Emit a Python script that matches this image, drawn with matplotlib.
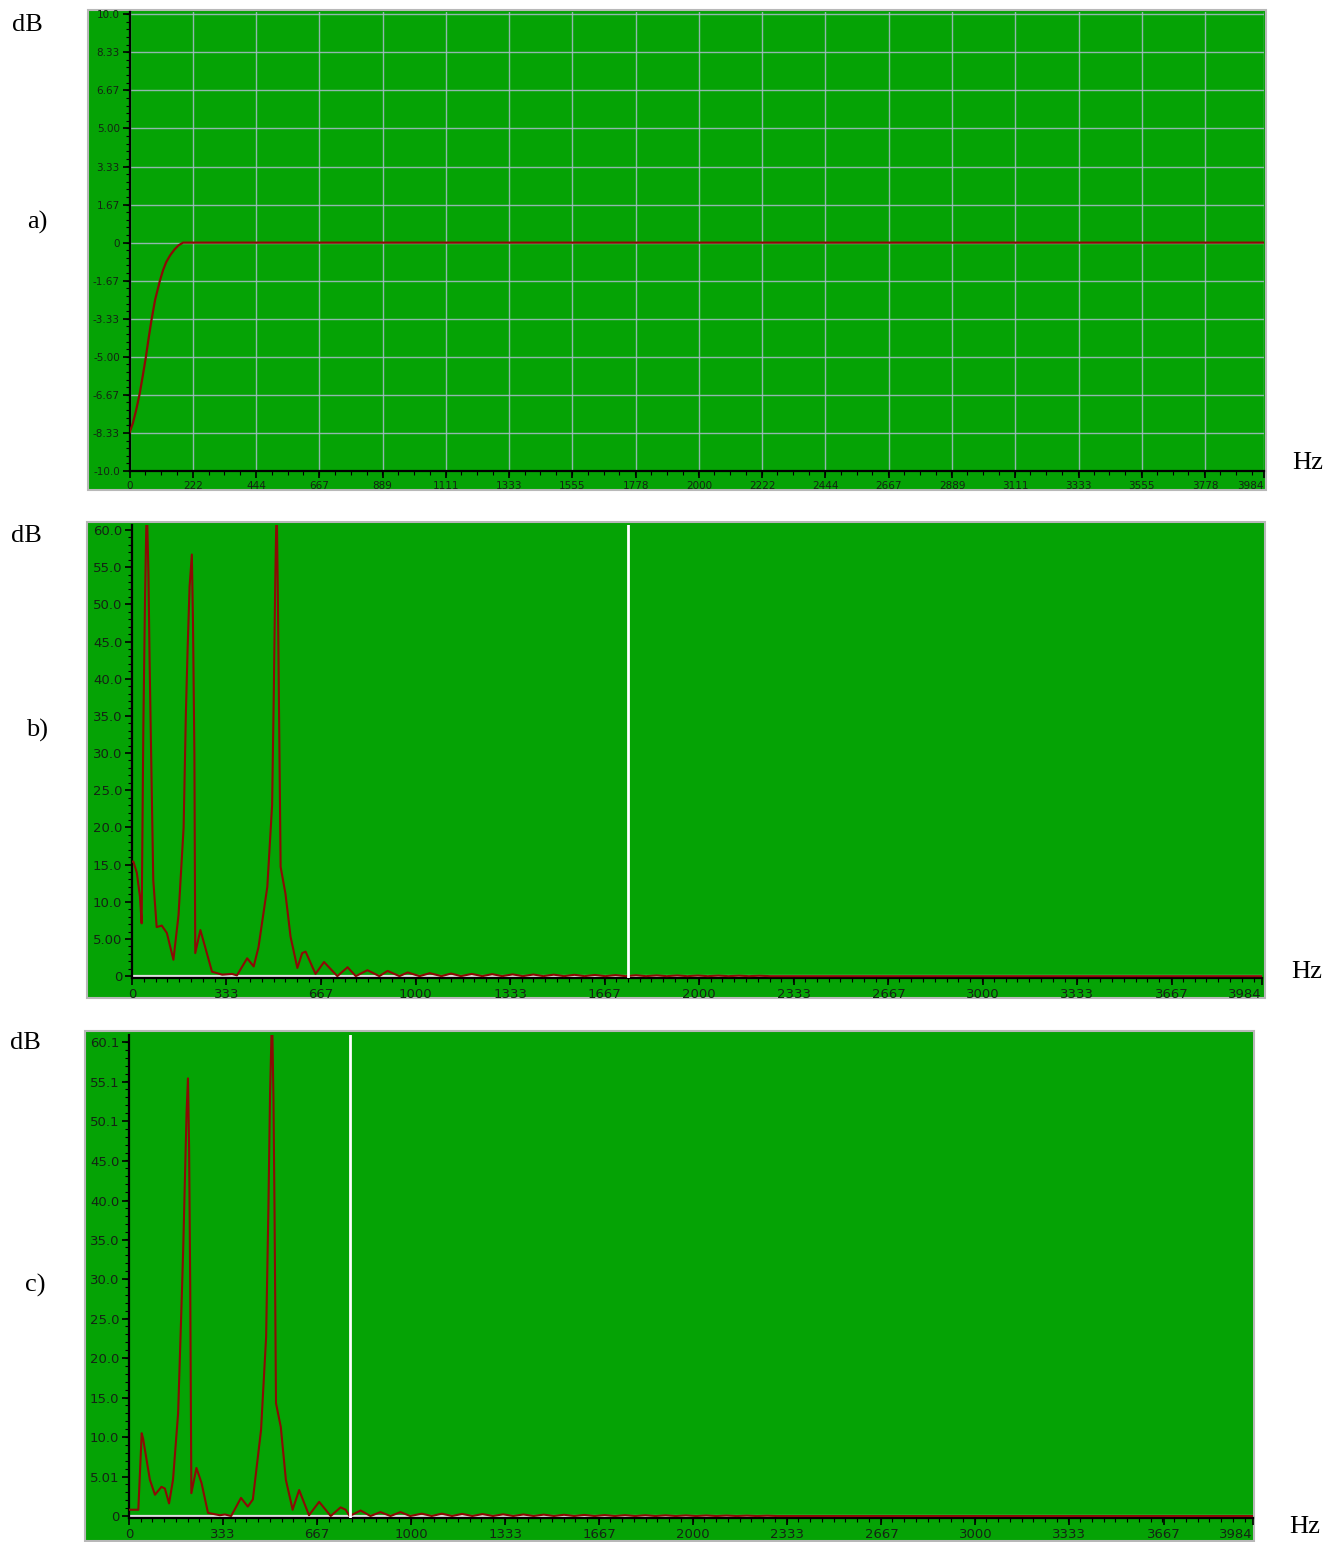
import matplotlib
matplotlib.use("Agg")
import matplotlib.pyplot as plt
from matplotlib.patches import Rectangle
from matplotlib.ticker import AutoMinorLocator

W, H = 1330, 1542
GREEN = "#05a305"
RED = "#8c0a05"
GRID = "#a8bccb"
LABEL = "#142414"

# ---- panel a: high-pass response (dB vs Hz)
a_freq = [0, 12, 24, 36, 47, 57, 67, 77, 90, 106, 118, 129, 143, 158, 172, 188, 3984]
a_db = [-8.33, -7.9, -7.3, -6.6, -5.8, -5.05, -4.2, -3.4, -2.5, -1.7, -1.2, -0.85,
        -0.55, -0.3, -0.12, 0.0, 0.0]
a_yticks = [10, 8.333, 6.667, 5, 3.333, 1.667, 0, -1.667, -3.333, -5, -6.667, -8.333, -10]
a_ylabels = ["10.0", "8.33", "6.67", "5.00", "3.33", "1.67", "0",
             "-1.67", "-3.33", "-5.00", "-6.67", "-8.33", "-10.0"]
a_xticks = [0, 222, 444, 667, 889, 1111, 1333, 1555, 1778, 2000, 2222, 2444,
            2667, 2889, 3111, 3333, 3555, 3778, 3984]

# ---- panel b: spectrum before filtering
b_freq = [0, 5, 17, 28, 34, 40, 46, 52, 58, 62, 67, 75, 87, 105, 123, 146, 164, 182,
          190, 196, 203, 211, 215, 220, 223, 241, 258, 282, 318, 353, 370, 406, 429,
          446, 477, 494, 500, 505, 510, 514, 518, 524, 541, 559, 583, 600, 612, 647,
          677, 724, 760, 789, 830, 872, 901, 943, 972, 1014, 1050, 1091, 1125, 1160,
          1198, 1235, 1270, 1305, 1342, 1378, 1415, 1450, 1487, 1523, 1560, 1595,
          1632, 1668, 1705, 1740, 1777, 1812, 1850, 1885, 1922, 1958, 1995, 2030,
          2067, 2103, 2140, 2175, 2212, 2250, 2300, 3984]
b_db = [15.4, 15.4, 13.9, 10.7, 7.1, 33.5, 51.0, 64.0, 54.0, 42.5, 30.8, 12.9, 6.6,
        6.8, 5.8, 2.2, 8.2, 20.0, 35.4, 43.9, 52.4, 56.7, 47.7, 29.7, 3.1, 6.2, 3.9,
        0.6, 0.2, 0.3, 0.1, 2.4, 1.3, 3.9, 12.0, 23.0, 38.3, 53.0, 64.0, 52.0, 37.0,
        14.7, 11.1, 5.3, 1.1, 3.1, 3.3, 0.3, 1.9, 0.0, 1.2, 0.0, 0.8, 0.0, 0.7, 0.0,
        0.5, 0.0, 0.4, 0.0, 0.35, 0.0, 0.3, 0.0, 0.27, 0.0, 0.24, 0.0, 0.22, 0.0,
        0.2, 0.0, 0.18, 0.0, 0.16, 0.0, 0.14, 0.0, 0.12, 0.0, 0.1, 0.0, 0.09, 0.0,
        0.08, 0.0, 0.07, 0.0, 0.06, 0.0, 0.05, 0.0, 0.0, 0.0]
b_marker = 1748

# ---- panel c: spectrum after filtering
c_freq = [0, 33, 45, 50, 74, 92, 115, 127, 142, 156, 174, 186, 192, 198, 204, 209,
          213, 217, 221, 239, 257, 280, 322, 340, 362, 397, 421, 439, 468, 486, 494,
          500, 507, 512, 516, 521, 538, 556, 580, 603, 638, 674, 715, 750, 768, 782,
          821, 856, 891, 927, 962, 997, 1038, 1073, 1109, 1145, 1181, 1217, 1253,
          1290, 1326, 1362, 1398, 1434, 1470, 1506, 1542, 1578, 1614, 1650, 1686,
          1722, 1758, 1794, 1830, 1866, 1902, 1938, 1974, 2010, 2046, 2082, 2118,
          2154, 2190, 2226, 2262, 2300, 3984]
c_db = [0.8, 0.8, 10.5, 9.8, 4.6, 2.7, 3.7, 3.5, 1.6, 4.6, 13.0, 26.5, 33.7, 42.4,
        51.1, 55.5, 46.8, 29.1, 2.9, 6.1, 4.2, 0.4, 0.1, 0.2, 0.0, 2.3, 1.2, 2.1,
        10.9, 22.7, 38.8, 53.6, 64.0, 53.0, 38.0, 14.3, 11.3, 4.6, 0.8, 3.3, 0.1,
        1.8, 0.0, 1.1, 0.8, 0.0, 0.7, 0.0, 0.5, 0.0, 0.5, 0.0, 0.3, 0.0, 0.3, 0.0,
        0.27, 0.0, 0.25, 0.0, 0.22, 0.0, 0.2, 0.0, 0.18, 0.0, 0.16, 0.0, 0.14, 0.0,
        0.12, 0.0, 0.11, 0.0, 0.1, 0.0, 0.09, 0.0, 0.08, 0.0, 0.07, 0.0, 0.06, 0.0,
        0.05, 0.0, 0.04, 0.0, 0.0]
c_marker = 782

spec_xticks = [0, 333, 667, 1000, 1333, 1667, 2000, 2333, 2667, 3000, 3333, 3667, 3984]
b_yticks = [60, 55, 50, 45, 40, 35, 30, 25, 20, 15, 10, 5, 0]
b_ylabels = ["60.0", "55.0", "50.0", "45.0", "40.0", "35.0", "30.0", "25.0",
             "20.0", "15.0", "10.0", "5.00", "0"]
c_yticks = [60.1, 55.1, 50.1, 45, 40, 35, 30, 25, 20, 15, 10, 5.01, 0]
c_ylabels = ["60.1", "55.1", "50.1", "45.0", "40.0", "35.0", "30.0", "25.0",
             "20.0", "15.0", "10.0", "5.01", "0"]


def fbox(x0, y0, x1, y1):
    return [x0 / W, 1 - y1 / H, (x1 - x0) / W, (y1 - y0) / H]


def frame(fig, x0, y0, x1, y1):
    b = fbox(x0, y0, x1, y1)
    fig.patches.append(Rectangle((b[0], b[1]), b[2], b[3], transform=fig.transFigure,
                                 facecolor=GREEN, edgecolor="#b8b8b8", lw=1.5, zorder=-5))


def style(ax, fs, xminor, yminor):
    ax.set_facecolor(GREEN)
    for s in ("top", "right"):
        ax.spines[s].set_visible(False)
    for s in ("left", "bottom"):
        ax.spines[s].set_color("black")
        ax.spines[s].set_linewidth(1.6)
    ax.xaxis.set_minor_locator(AutoMinorLocator(xminor))
    ax.yaxis.set_minor_locator(AutoMinorLocator(yminor))
    ax.tick_params(which="major", length=5, width=1.2, color="black",
                   labelsize=fs, labelcolor=LABEL, pad=2)
    ax.tick_params(which="minor", length=3, width=0.8, color="black")


def side_text(fig, x, y, s):
    fig.text(x / W, 1 - y / H, s, ha="center", va="center", fontsize=19,
             family="Liberation Serif")


fig = plt.figure(figsize=(W / 100, H / 100), dpi=100)

# panel a
frame(fig, 88, 10, 1266, 490)
ax = fig.add_axes(fbox(129.5, 12, 1264, 471))
style(ax, 7.5, 4, 5)
ax.set_xlim(0, 3984)
ax.set_ylim(-10, 10.1)
ax.set_xticks(a_xticks)
ax.set_xticklabels([str(v) for v in a_xticks])
ax.set_yticks(a_yticks)
ax.set_yticklabels(a_ylabels)
ax.grid(True, which="major", color=GRID, lw=1.0, alpha=0.85)
ax.set_axisbelow(True)
ax.plot(a_freq, a_db, color=RED, lw=1.6, zorder=3)
ax.get_xticklabels()[-1].set_ha("right")

# panel b
frame(fig, 87, 522, 1265, 998)
ax = fig.add_axes(fbox(132, 525, 1262, 978))
style(ax, 9.5, 8, 5)
ax.set_xlim(0, 3984)
ax.set_ylim(-0.25, 60.67)
ax.set_xticks(spec_xticks)
ax.set_xticklabels([str(v) for v in spec_xticks])
ax.set_yticks(b_yticks)
ax.set_yticklabels(b_ylabels)
ax.axhline(0, color="#e0e0e0", lw=1.6, zorder=2)
ax.axvline(b_marker, color="white", lw=2, zorder=4)
ax.plot(b_freq, b_db, color=RED, lw=1.5, zorder=3)
ax.get_xticklabels()[-1].set_ha("right")

# panel c
frame(fig, 85, 1031, 1254, 1541)
ax = fig.add_axes(fbox(129, 1035, 1253, 1518))
style(ax, 9.5, 8, 5)
ax.set_xlim(0, 3984)
ax.set_ylim(-0.25, 61.0)
ax.set_xticks(spec_xticks)
ax.set_xticklabels([str(v) for v in spec_xticks])
ax.set_yticks(c_yticks)
ax.set_yticklabels(c_ylabels)
ax.axhline(0, color="#e0e0e0", lw=1.6, zorder=2)
ax.axvline(c_marker, color="white", lw=2, zorder=4)
ax.plot(c_freq, c_db, color=RED, lw=1.5, zorder=3)
ax.get_xticklabels()[-1].set_ha("right")

side_text(fig, 27, 25, "dB")
side_text(fig, 37, 222, "a)")
side_text(fig, 1308, 463, "Hz")
side_text(fig, 26, 536, "dB")
side_text(fig, 37, 730, "b)")
side_text(fig, 1307, 972, "Hz")
side_text(fig, 25, 1043, "dB")
side_text(fig, 35, 1285, "c)")
side_text(fig, 1305, 1527, "Hz")

fig.savefig("out.png", dpi=100, facecolor="white")
